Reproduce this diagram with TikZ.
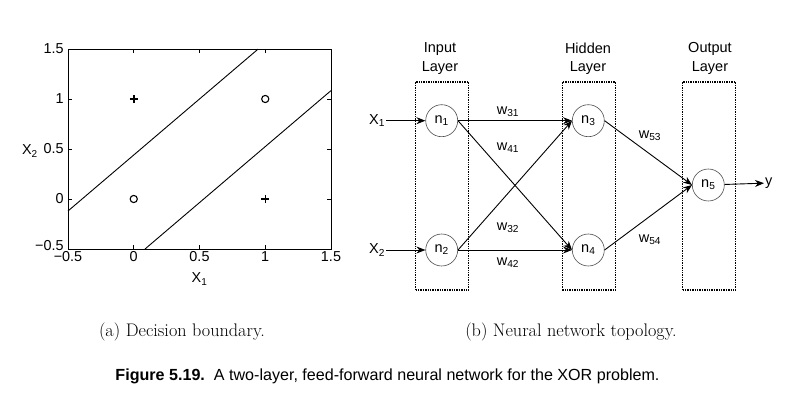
\documentclass[tikz,border=0pt]{standalone}
\usepackage{fontspec}
\newfontfamily\helv{Liberation Sans}
\usepackage{tikz}
\usetikzlibrary{arrows.meta,positioning}

\begin{document}
\begin{tikzpicture}[x=1pt,y=-1pt,
    neuron/.style={draw=black!70,circle,line width=.6pt,minimum size=32pt,inner sep=0pt,font=\helv\fontsize{14.5}{17}\selectfont},
    layerbox/.style={draw,densely dotted,line width=1.4pt,minimum width=53pt,minimum height=208pt,inner sep=0pt},
    conn/.style={-{Stealth[length=9pt,width=7pt]},line width=.9pt},
    lbl/.style={font=\helv\fontsize{14.5}{18.4}\selectfont,inner sep=1pt,align=center},
    ticklbl/.style={font=\helv\fontsize{14.4}{17}\selectfont,inner sep=0pt}]

  \useasboundingbox (0,0) rectangle (788,407);

  %%%% Decision boundary plot %%%%
  %% data coordinates: origin of the data at the shift point
  \begin{scope}[shift={(133.75,199)},x=131.5pt,y=100pt,line width=.9pt]

    \draw (-0.5,-0.5) rectangle (1.5,1.5);
    \foreach \t in {-0.5,0,0.5,1,1.5}{
      % ticks inside, on all four sides
      \draw (\t,-0.5) -- ++(0,0.04) (\t,1.5) -- ++(0,-0.04);
      \draw (-0.5,\t) -- ++(0.03,0) (1.5,\t) -- ++(-0.03,0);
    }

    %% Tick labels
    \foreach [count=\i] \t/\s in {-0.5/−0.5,0/0,0.5/0.5,1/1,1.5/1.5}{
      \node[ticklbl] (xtick\i) at (\t,-0.58) {\s};
    }
    \foreach [count=\i] \t/\s in {-0.47/−0.5,0/0,0.5/0.5,1/1,1.5/1.5}{
      \node[ticklbl,anchor=east] (ytick\i) at (-0.53,\t) {\s};
    }
    \node[ticklbl] (xlab) at (0.5,-0.8) {X\textsubscript{1}};
    \node[ticklbl] (ylab) at (-0.79,0.48) {X\textsubscript{2}};

    %% The two boundaries
    \draw (-0.5,-0.12) -- (0.9464,1.5);
    \draw (0.0857,-0.5) -- (1.5,1.084);

    %% Points
    \foreach \p in {(0,1),(1,0)}{
      \draw[line width=1.5pt] \p ++(-4pt,0) -- ++(8pt,0) \p ++(0,-4pt) -- ++(0,8pt);
    }
    \foreach \p in {(0,0),(1,1)}{
      \draw[line width=1.1pt] \p circle (3.6pt);
    }
  \end{scope}

  %%%% Network topology %%%%
  \node[layerbox] (inbox) at (442,186) {};
  \node[layerbox] (hidbox) at (588.7,186) {};
  \node[layerbox] (outbox) at (709,186) {};

  \node[lbl] (intitle) at (440,58.5) {Input\\Layer};
  \node[lbl] (hidtitle) at (588,58.5) {Hidden\\Layer};
  \node[lbl] (outtitle) at (710,58.5) {Output\\Layer};

  \node[neuron] (n1) at (441.7,120.7) {n\textsubscript{1}};
  \node[neuron] (n2) at (441.7,250) {n\textsubscript{2}};
  \node[neuron] (n3) at (588.3,120.7) {n\textsubscript{3}};
  \node[neuron] (n4) at (588.3,250) {n\textsubscript{4}};
  \node[neuron] (n5) at (708.3,185) {n\textsubscript{5}};

  \node[lbl] (x1) at (377,120.7) {X\textsubscript{1}};
  \node[lbl] (x2) at (377,250) {X\textsubscript{2}};
  \node[lbl,anchor=west] (yout) at (764,183) {y};

  % inputs and output
  \draw[conn] (x1) -- (n1);
  \draw[conn] (x2) -- (n2);
  \draw[conn] (n5) -- (yout);

  % weights
  \foreach \a/\b in {n1/n3,n1/n4,n2/n3,n2/n4,n3/n5,n4/n5}{
    \draw[conn] (\a.east) -- (\b.west);
  }
  \foreach \w/\x/\y in {31/508/111.7,41/508/148,32/508/228,42/508/263,53/650/136,54/650/240}{
    \node[lbl] (w\w) at (\x,\y) {w\textsubscript{\w}};
  }

  %%%% Captions %%%%
  \node (capa) at (182,332) {\fontsize{18.2}{22}\selectfont (a) Decision boundary.};
  \node (capb) at (571,332) {\fontsize{18.2}{22}\selectfont (b) Neural network topology.};
  \node (figcap) at (387.5,376) {\helv\fontsize{16.1}{19}\selectfont\textbf{Figure 5.19.}\ \ A two-layer, feed-forward neural network for the XOR problem.};

\end{tikzpicture}
\end{document}
